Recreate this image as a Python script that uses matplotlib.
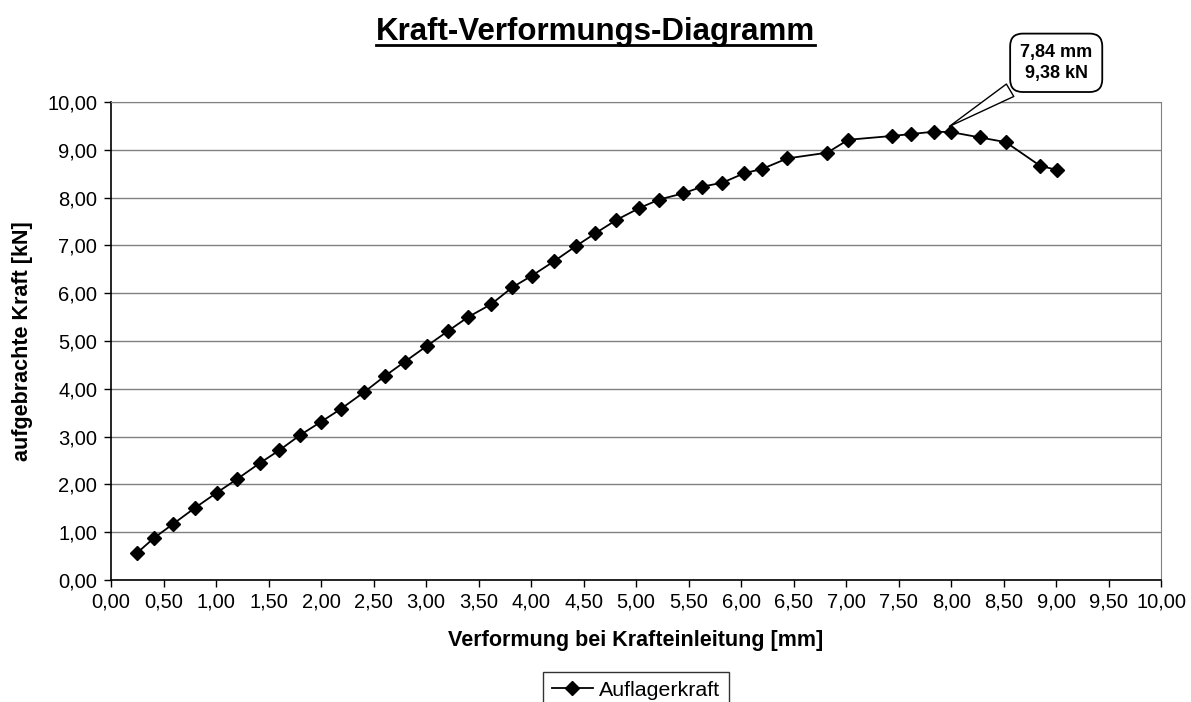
import matplotlib
matplotlib.use("Agg")
import matplotlib.pyplot as plt
from matplotlib.ticker import FuncFormatter, MultipleLocator
from matplotlib.lines import Line2D

plt.rcParams["font.family"] = ["Liberation Sans", "DejaVu Sans"]

# measured deformation at load point [mm] and applied force [kN]
verformung = [0.25, 0.41, 0.59, 0.80, 1.01, 1.20, 1.42, 1.60, 1.80, 2.00, 2.19, 2.41,
              2.61, 2.80, 3.01, 3.21, 3.40, 3.62, 3.82, 4.01, 4.22, 4.43, 4.61, 4.81,
              5.03, 5.22, 5.45, 5.63, 5.82, 6.03, 6.20, 6.44, 6.82, 7.02, 7.44, 7.62,
              7.84, 8.00, 8.27, 8.52, 8.85, 9.01]
kraft = [0.57, 0.88, 1.17, 1.51, 1.83, 2.11, 2.45, 2.71, 3.03, 3.31, 3.58, 3.93,
         4.27, 4.57, 4.90, 5.21, 5.50, 5.77, 6.12, 6.37, 6.67, 6.99, 7.25, 7.53,
         7.78, 7.96, 8.09, 8.23, 8.31, 8.51, 8.60, 8.82, 8.94, 9.21, 9.29, 9.33,
         9.38, 9.37, 9.26, 9.16, 8.66, 8.58]
max_label = "7,84 mm\n9,38 kN"


def komma(v, pos=None):
    return f"{v:.2f}".replace(".", ",")


fig = plt.figure(figsize=(11.91, 7.02), dpi=100)
ax = fig.add_axes([0.0932, 0.1738, 0.8818, 0.6809])

line, = ax.plot(verformung, kraft, color="black", lw=1.3, marker="D",
                markersize=7, markerfacecolor="black", markeredgecolor="black",
                label="Auflagerkraft")

ax.set_xlim(0, 10)
ax.set_ylim(0, 10)
ax.xaxis.set_major_locator(MultipleLocator(0.5))
ax.yaxis.set_major_locator(MultipleLocator(1.0))
ax.xaxis.set_major_formatter(FuncFormatter(komma))
ax.yaxis.set_major_formatter(FuncFormatter(komma))
ax.tick_params(labelsize=14.5, length=5, width=1, direction="out", color="black")
ax.tick_params(axis="y", pad=5)
ax.tick_params(axis="x", pad=4)
ax.grid(axis="y", color="#808080", lw=1)
ax.set_axisbelow(True)

for side in ("top", "right"):
    ax.spines[side].set_color("#808080")
for side in ("left", "bottom"):
    ax.spines[side].set_color("black")
    ax.spines[side].set_linewidth(1.2)

ax.set_xlabel("Verformung bei Krafteinleitung [mm]", fontsize=15.5,
              fontweight="bold")
ax.set_ylabel("aufgebrachte Kraft [kN]", fontsize=15.5, fontweight="bold")
ax.xaxis.set_label_coords(0.5, -0.105)
ax.yaxis.set_label_coords(-0.074, 0.5)

# callout for the maximum
ax.annotate(max_label, xy=(7.96, 9.46), xytext=(9.0, 10.82),
            ha="center", va="center", fontsize=13, fontweight="bold",
            linespacing=1.35,
            bbox=dict(boxstyle="round,pad=0.55,rounding_size=0.7", fc="white",
                      ec="black", lw=1.3),
            arrowprops=dict(arrowstyle="wedge,tail_width=0.8,shrink_factor=0.5",
                            fc="white", ec="black", lw=1.0),
            annotation_clip=False)

title = fig.text(0.5, 0.954, "Kraft-Verformungs-Diagramm", ha="center",
                 va="center", fontsize=22.5, fontweight="bold")

leg = fig.legend(handles=[line], loc="upper center",
                 bbox_to_anchor=(0.534, 1 - 672 / 702), fontsize=15.4,
                 frameon=True, fancybox=False, edgecolor="black",
                 borderpad=0.4, handlelength=1.9, handletextpad=0.3,
                 borderaxespad=0)
leg.get_frame().set_linewidth(1.0)

# underline the title
fig.canvas.draw()
bb = title.get_window_extent().transformed(fig.transFigure.inverted())
fig.add_artist(Line2D([bb.x0, bb.x1], [bb.y0 + 0.003, bb.y0 + 0.003],
                      transform=fig.transFigure, color="black", lw=2.0))

fig.savefig("out.png", dpi=100)
